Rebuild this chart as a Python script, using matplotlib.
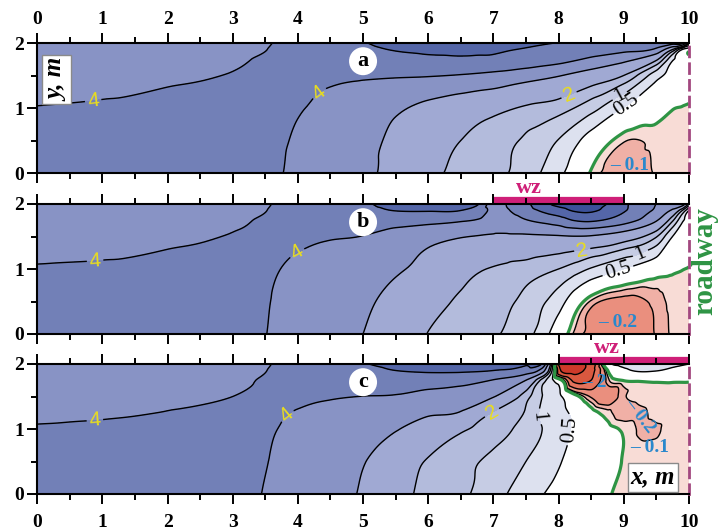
import numpy as np
import matplotlib.pyplot as plt
import matplotlib.tri as mtri
from matplotlib.ticker import MultipleLocator

plt.rcParams['font.family'] = ['Liberation Serif', 'DejaVu Serif']
plt.rcParams['contour.negative_linestyle'] = 'solid'

# ---- field values on grid nodes (rows: y from 0 up to 2) ----
xa = [0, 1, 2, 3, 3.5, 4, 4.5, 5, 5.5, 6, 6.5, 7, 7.5, 8, 8.5, 9, 9.5, 9.75, 9.9, 10]
ya = [0, 0.5, 1.0, 1.5, 1.75, 1.9, 2.0]
za = [
    [4.30, 4.30, 4.30, 4.25, 4.12, 3.88, 3.55, 3.20, 2.72, 2.18, 1.85, 1.65, 1.27, 0.62, -0.02, -0.14, -0.095, -0.08, -0.072, -0.07],
    [4.25, 4.25, 4.25, 4.22, 4.15, 3.93, 3.62, 3.30, 2.80, 2.40, 2.00, 1.75, 1.42, 0.98, 0.28, -0.085, -0.07, -0.06, -0.05, -0.045],
    [4.01, 4.03, 4.06, 4.10, 4.09, 4.03, 3.85, 3.50, 3.15, 2.75, 2.42, 2.20, 1.92, 1.72, 1.20, 0.48, 0.14, 0.01, -0.005, -0.01],
    [3.93, 3.95, 3.97, 4.01, 4.05, 4.08, 4.10, 4.10, 4.08, 4.05, 3.95, 3.75, 3.40, 3.05, 2.55, 2.00, 0.70, 0.30, 0.15, 0.08],
    [3.85, 3.87, 3.90, 3.96, 4.04, 4.15, 4.30, 4.50, 4.72, 4.85, 4.90, 4.88, 4.72, 4.35, 3.85, 3.30, 2.15, 0.60, 0.25, 0.12],
    [3.78, 3.80, 3.83, 3.90, 3.99, 4.20, 4.45, 4.80, 5.05, 5.15, 5.15, 5.08, 4.95, 4.70, 4.45, 4.25, 3.80, 2.00, 0.50, 0.20],
    [3.75, 3.77, 3.80, 3.87, 3.95, 4.25, 4.55, 4.95, 5.25, 5.35, 5.35, 5.28, 5.15, 4.98, 4.85, 4.70, 4.50, 4.40, 4.30, 2.00],
]

xb = [0, 1, 2, 3, 3.5, 4, 4.5, 5, 5.5, 6, 6.5, 6.8, 7, 7.2, 7.5, 8, 8.25, 8.5, 9, 9.5, 9.75, 9.9, 10]
yb = [0, 0.5, 1.0, 1.5, 1.75, 1.9, 2.0]
zb = [
    [4.30, 4.30, 4.30, 4.20, 4.01, 3.75, 3.45, 3.00, 2.60, 1.98, 1.80, 1.66, 1.55, 1.45, 1.20, 0.22, -0.13, -0.23, -0.30, -0.19, -0.08, -0.06, -0.05],
    [4.25, 4.25, 4.22, 4.15, 4.03, 3.80, 3.50, 3.15, 2.75, 2.30, 1.90, 1.78, 1.70, 1.60, 1.35, 0.72, 0.20, -0.12, -0.26, -0.16, -0.06, -0.045, -0.04],
    [4.02, 4.03, 4.05, 4.08, 4.06, 3.90, 3.65, 3.35, 3.10, 2.75, 2.30, 2.05, 1.95, 1.87, 1.78, 1.50, 1.25, 0.95, 0.50, 0.16, 0.04, 0.005, -0.005],
    [3.93, 3.95, 3.97, 4.01, 4.05, 4.10, 4.05, 3.98, 3.60, 3.30, 3.05, 2.95, 2.90, 2.88, 2.86, 2.92, 2.97, 2.92, 2.45, 1.55, 0.50, 0.25, 0.12],
    [3.85, 3.87, 3.90, 3.96, 4.04, 4.20, 4.30, 4.35, 4.40, 4.30, 4.10, 3.90, 3.60, 3.50, 3.95, 4.55, 5.05, 5.15, 4.45, 3.10, 1.60, 0.60, 0.30],
    [3.78, 3.80, 3.83, 3.90, 3.99, 4.25, 4.55, 4.75, 5.02, 5.05, 5.00, 4.50, 3.70, 3.90, 4.60, 5.60, 6.10, 6.15, 5.10, 3.80, 2.80, 1.50, 0.50],
    [3.75, 3.77, 3.80, 3.87, 3.95, 4.30, 4.65, 4.90, 5.25, 5.30, 5.20, 4.90, 3.30, 4.00, 4.80, 6.30, 6.60, 6.60, 5.20, 4.00, 3.80, 3.60, 2.00],
]

xc = [0, 1, 2, 3, 3.5, 4, 4.5, 5, 5.5, 6, 6.5, 7, 7.5, 7.75, 7.9, 8.05, 8.25, 8.5, 8.75, 9, 9.25, 9.5, 9.75, 10]
yc = [0, 0.5, 1.0, 1.25, 1.5, 1.75, 1.9, 2.0]
zc = [
    [4.30, 4.30, 4.28, 4.20, 3.97, 3.70, 3.35, 2.90, 2.30, 1.80, 1.60, 1.20, 0.72, 0.52, 0.42, 0.33, 0.24, 0.12, 0.02, -0.04, -0.06, -0.065, -0.065, -0.065],
    [4.25, 4.25, 4.22, 4.15, 4.02, 3.75, 3.45, 3.05, 2.40, 1.95, 1.65, 1.38, 1.00, 0.78, 0.65, 0.50, 0.35, 0.20, 0.09, -0.01, -0.05, -0.06, -0.06, -0.06],
    [4.02, 4.03, 4.05, 4.08, 4.05, 3.88, 3.62, 3.30, 3.05, 2.60, 2.10, 1.75, 1.30, 1.00, 0.85, 0.66, 0.42, 0.20, 0.05, -0.02, -0.115, -0.11, -0.07, -0.06],
    [3.97, 3.985, 4.005, 4.06, 4.08, 3.97, 3.82, 3.50, 3.30, 3.10, 2.95, 1.95, 1.45, 0.90, 0.75, 0.60, 0.40, 0.08, -0.06, -0.18, -0.13, -0.07, -0.065, -0.06],
    [3.93, 3.95, 3.97, 4.00, 4.05, 4.10, 4.05, 3.99, 3.93, 3.60, 3.30, 3.05, 1.70, 1.00, 0.75, 0.50, 0.10, -0.22, -0.35, -0.12, -0.04, -0.015, -0.01, -0.01],
    [3.85, 3.87, 3.90, 3.96, 4.03, 4.20, 4.30, 4.40, 4.50, 4.55, 4.45, 3.95, 3.00, 1.30, 0.60, 0.00, -1.20, -1.00, -0.15, 0.01, 0.03, 0.04, 0.03, 0.02],
    [3.78, 3.80, 3.83, 3.90, 3.99, 4.25, 4.50, 4.75, 5.00, 5.10, 5.10, 5.00, 4.60, 3.50, 1.00, -2.20, -2.60, -1.30, -0.02, 0.40, 0.55, 0.52, 0.40, 0.25],
    [3.75, 3.77, 3.80, 3.87, 3.95, 4.30, 4.60, 4.95, 5.20, 5.30, 5.30, 5.25, 5.10, 4.90, 1.50, -3.00, -3.00, -1.50, 0.30, 0.65, 0.70, 0.70, 0.60, 0.50],
]

fill_levels = [-10, -2, -1, -0.5, -0.2, -0.1, 0, 0.5, 1, 1.5, 2, 3, 4, 5, 6, 10]
fill_colors = ['#cd3a2a', '#d9583f', '#e3735c', '#ea8f7e', '#f0b0a6', '#f8dcd6', '#ffffff',
               '#dde1ef', '#c6cce4', '#b3bbdc', '#a0a9d3', '#8893c5', '#7280b7', '#5466a8', '#3c5199']
plain_levels = [-2, -1, -0.5, -0.2, -0.1, 1.5, 3, 5, 6]
yellow_levels = [2, 4]
black_levels = [0.5, 1]

xticks = list(range(11))
yticks = [0, 1, 2]

# label anchor points for each panel
yellow_pos = {'a': [(0.86, 1.09), (4.37, 1.17), (8.13, 1.28)],
              'b': [(0.89, 1.09), (3.98, 1.26), (8.36, 1.32)],
              'c': [(0.89, 1.06), (3.80, 1.25), (6.98, 1.25)]}
black_pos = {'a': [(8.89, 1.28), (9.04, 1.05)],
             'b': [(9.25, 1.26), (8.91, 0.98)],
             'c': [(7.60, 1.18), (8.02, 1.00)]}
region_text = {'a': [(9.09, 0.12, '\u2013 0.1', 0)],
               'b': [(8.91, 0.17, '\u2013 0.2', 0)],
               'c': [(8.55, 1.72, '\u2013 2', 0), (9.25, 1.20, '\u2013 0.2', -52), (9.40, 0.72, '\u2013 0.1', 0)]}
wz_span = {'b': (7, 9), 'c': (8, 10)}
wz_text_x = {'b': 7.55, 'c': 8.75}

blue = '#2a88cc'
yellow = '#e8dc20'
green = '#2e9444'
wz_col = '#cf1f78'


def grid_triangulation(xs, ys):
    # split every grid cell along the same diagonal
    X, Y = np.meshgrid(xs, ys)
    ny, nx = X.shape
    idx = np.arange(nx * ny).reshape(ny, nx)
    tris = []
    for j in range(ny - 1):
        for i in range(nx - 1):
            a, b = idx[j, i], idx[j, i + 1]
            c, d = idx[j + 1, i + 1], idx[j + 1, i]
            tris.append([a, b, c])
            tris.append([a, c, d])
    return mtri.Triangulation(X.ravel(), Y.ravel(), np.array(tris))


fig = plt.figure(figsize=(7.19, 5.31), dpi=100)
left, width, height = 37.3 / 719, 651.5 / 719, 130 / 531
bottoms = {'a': 1 - 173 / 531, 'b': 1 - 334 / 531, 'c': 1 - 494 / 531}
data = {'a': (xa, ya, za), 'b': (xb, yb, zb), 'c': (xc, yc, zc)}

for key in ['a', 'b', 'c']:
    ax = fig.add_axes([left, bottoms[key], width, height])
    xs, ys, zs = data[key]
    tri = grid_triangulation(xs, ys)
    z = np.asarray(zs, float).ravel()
    interp = mtri.CubicTriInterpolator(tri, z, kind='geom')
    tri_f, z_f = mtri.UniformTriRefiner(tri).refine_field(z, triinterpolator=interp, subdiv=4)

    ax.tricontourf(tri_f, z_f, levels=fill_levels, colors=fill_colors)
    ax.tricontour(tri_f, z_f, levels=plain_levels, colors='k', linewidths=1.0, linestyles='solid')
    cs_y = ax.tricontour(tri_f, z_f, levels=yellow_levels, colors='k', linewidths=1.0)
    cs_k = ax.tricontour(tri_f, z_f, levels=black_levels, colors='k', linewidths=1.0)
    ax.tricontour(tri_f, z_f, levels=[0], colors=green, linewidths=2.3, linestyles='solid')

    t1 = ax.clabel(cs_y, manual=yellow_pos[key], fmt='%g',
                   colors=yellow, fontsize=15, inline_spacing=3)
    for t in t1:
        t.set_fontfamily('Liberation Sans')
    ax.clabel(cs_k, manual=black_pos[key], fmt='%g',
              colors='k', fontsize=15, inline_spacing=3)

    for x, y, s, rot in region_text[key]:
        ax.text(x, y, s, color=blue, fontsize=14, fontweight='bold',
                ha='center', va='center', rotation=rot)

    ax.set_xlim(0, 10)
    ax.set_ylim(0, 2)
    ax.set_xticks(xticks)
    ax.set_xticklabels([str(v) for v in xticks], fontsize=14, fontweight='bold')
    ax.set_yticks(yticks)
    ax.set_yticklabels([str(v) for v in yticks], fontsize=14, fontweight='bold')
    ax.xaxis.set_minor_locator(MultipleLocator(0.5))
    ax.yaxis.set_minor_locator(MultipleLocator(0.5))
    ax.tick_params(axis='x', which='both', direction='out', top=True, bottom=True,
                   labeltop=(key == 'a'), labelbottom=(key == 'c'), width=1.4)
    ax.tick_params(axis='x', which='major', pad=7 if key == 'c' else 3)
    ax.tick_params(axis='y', which='both', direction='out', left=True, right=False,
                   width=1.4, pad=2)
    ax.tick_params(which='major', length=7.5)
    ax.tick_params(which='minor', length=4)
    for side in ['top', 'bottom', 'left']:
        ax.spines[side].set_linewidth(1.5)
    ax.spines['right'].set_color('#a2477f')
    ax.spines['right'].set_linewidth(2)
    ax.spines['right'].set_linestyle((0, (3.5, 2.5)))

    # panel letter
    ax.text(5.0, 1.72, key, fontsize=16, fontweight='bold', ha='center', va='center',
            bbox=dict(boxstyle='circle,pad=0.18', fc='white', ec='none'))

    if key in wz_span:
        x0, x1 = wz_span[key]
        ax.plot([x0, x1], [2.055, 2.055], color=wz_col, lw=4.5, clip_on=False,
                solid_capstyle='butt', zorder=1.2)
        ax.text(wz_text_x[key], 2.25, 'wz', color=wz_col, fontsize=16, fontweight='bold',
                ha='center', va='center', clip_on=False)

    if key == 'a':
        ax.text(0.30, 1.44, 'y, m', rotation=90, fontsize=18, fontweight='bold',
                fontstyle='italic', ha='center', va='center',
                bbox=dict(boxstyle='square,pad=0.12', fc='white', ec='#8a8a8a', lw=1))
    if key == 'b':
        ax.text(10.24, 1.12, 'roadway', rotation=90, fontsize=21, fontweight='bold',
                color=green, ha='center', va='center', clip_on=False)
    if key == 'c':
        ax.text(9.45, 0.26, 'x, m', fontsize=18, fontweight='bold', fontstyle='italic',
                ha='center', va='center',
                bbox=dict(boxstyle='square,pad=0.12', fc='white', ec='#8a8a8a', lw=1))

fig.savefig('out.png', dpi=100)
